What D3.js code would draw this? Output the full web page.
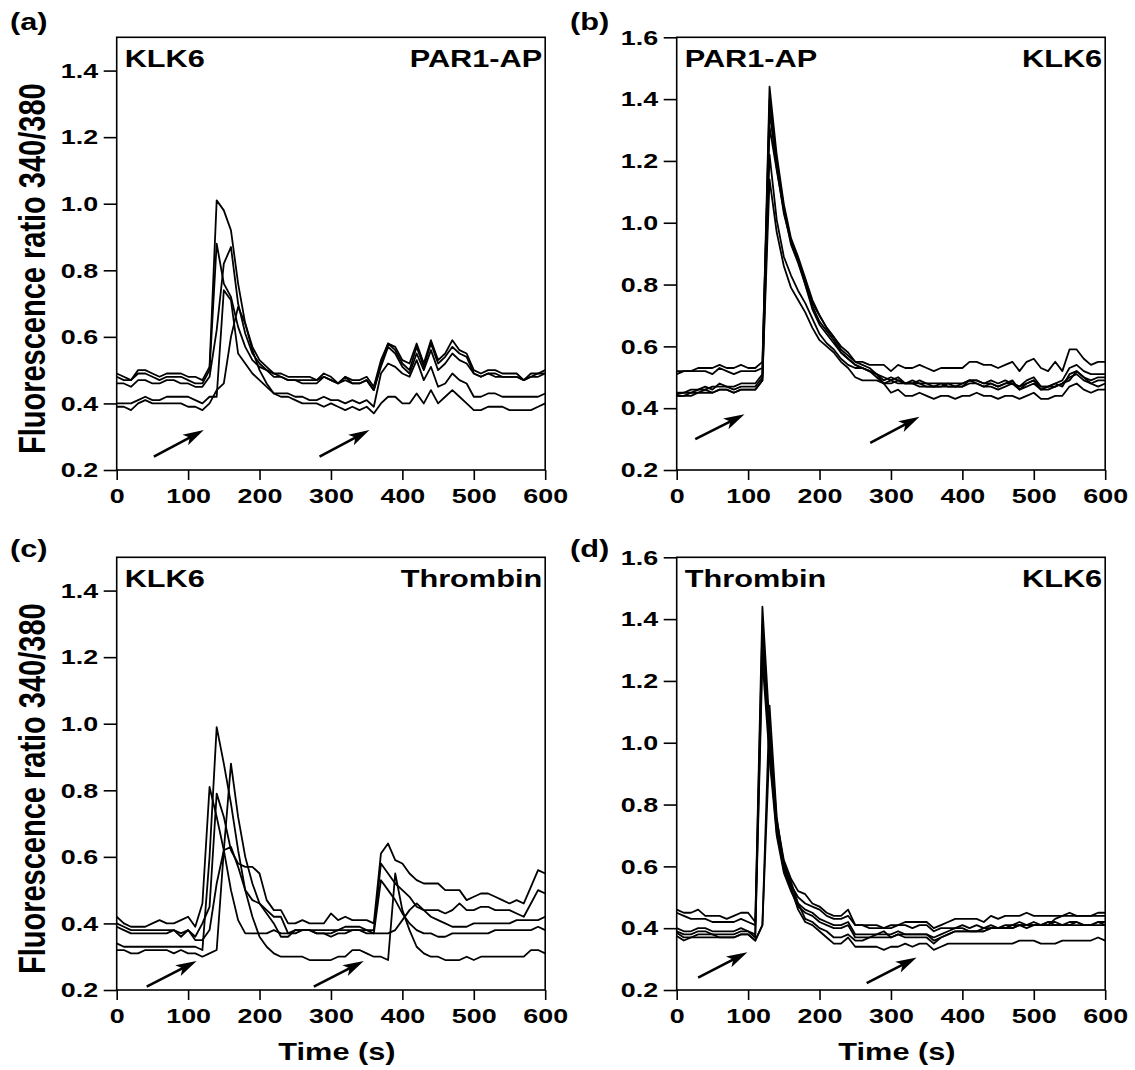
<!DOCTYPE html>
<html lang="en">
<head>
<meta charset="UTF-8">
<title>Fluorescence ratio traces</title>
<style>
    body { margin: 0; background: #fff; }
    .trace { fill: none; stroke: #000; stroke-width: 1.8px; stroke-linejoin: round; }
    .frame { fill: none; stroke: #000; stroke-width: 1.6px; }
    .tick line { stroke: #000; stroke-width: 1.6px; }
    .tick text { font-size: 21px; }
    .arrow { stroke: #000; stroke-width: 2.6px; }
    text { font-family: "Liberation Sans", Arial, sans-serif; font-weight: bold; fill: #000; }
</style>
</head>
<body>
<script src="https://cdn.jsdelivr.net/npm/d3@7"></script>
<script>

    // sampling every 10 s, 0..600
    const times = d3.range(0, 601, 10);
    const xTicks = [0, 100, 200, 300, 400, 500, 600];
    const yTicksA = [0.2, 0.4, 0.6, 0.8, 1.0, 1.2, 1.4];
    const yTicksB = [0.2, 0.4, 0.6, 0.8, 1.0, 1.2, 1.4, 1.6];

    const panelLetters = ['(a)', '(b)', '(c)', '(d)'];
    const cornerLabels = [['KLK6', 'PAR1-AP'], ['PAR1-AP', 'KLK6'], ['KLK6', 'Thrombin'], ['Thrombin', 'KLK6']];
    const yMaxes = [1.5, 1.6, 1.5, 1.6];

    // (a) KLK6 then PAR1-AP
    const tracesA = [
        [0.49,0.48,0.47,0.50,0.50,0.49,0.48,0.49,0.49,0.49, 0.48,0.48,0.47,0.51,1.01,0.98,0.92,0.76,0.64,0.57,
         0.53,0.51,0.49,0.49,0.48,0.48,0.48,0.48,0.47,0.49, 0.48,0.46,0.48,0.47,0.47,0.48,0.45,0.53,0.58,0.57,
         0.53,0.52,0.58,0.52,0.59,0.53,0.55,0.59,0.56,0.55, 0.50,0.49,0.50,0.50,0.49,0.49,0.49,0.47,0.49,0.49, 0.50],
        [0.48,0.47,0.47,0.49,0.49,0.48,0.47,0.48,0.48,0.48, 0.47,0.46,0.46,0.50,0.88,0.76,0.72,0.63,0.57,0.53,
         0.51,0.50,0.49,0.48,0.47,0.47,0.47,0.47,0.47,0.48, 0.47,0.46,0.47,0.46,0.46,0.47,0.44,0.52,0.58,0.56,
         0.52,0.50,0.57,0.51,0.58,0.52,0.54,0.57,0.55,0.54, 0.49,0.48,0.49,0.49,0.48,0.48,0.48,0.47,0.48,0.48, 0.49],
        [0.46,0.46,0.45,0.47,0.47,0.46,0.46,0.47,0.47,0.46, 0.46,0.45,0.45,0.48,0.62,0.82,0.87,0.70,0.61,0.55,
         0.52,0.50,0.48,0.48,0.47,0.47,0.46,0.46,0.46,0.48, 0.47,0.46,0.48,0.46,0.46,0.47,0.44,0.51,0.57,0.55,
         0.51,0.49,0.55,0.50,0.56,0.50,0.52,0.55,0.53,0.52, 0.49,0.48,0.49,0.48,0.48,0.48,0.48,0.47,0.48,0.49, 0.49],
        [0.40,0.40,0.40,0.41,0.42,0.41,0.41,0.42,0.42,0.42, 0.42,0.41,0.40,0.42,0.42,0.74,0.71,0.55,0.52,0.49,
         0.47,0.45,0.43,0.43,0.43,0.42,0.42,0.41,0.41,0.42, 0.41,0.41,0.40,0.41,0.40,0.41,0.39,0.49,0.52,0.51,
         0.49,0.48,0.53,0.47,0.51,0.45,0.46,0.49,0.47,0.46, 0.42,0.42,0.43,0.43,0.42,0.42,0.42,0.42,0.42,0.42, 0.43],
        [0.39,0.39,0.38,0.40,0.41,0.40,0.40,0.40,0.40,0.40, 0.39,0.39,0.38,0.40,0.44,0.46,0.60,0.69,0.64,0.56,
         0.50,0.46,0.43,0.42,0.42,0.41,0.40,0.40,0.40,0.39, 0.40,0.39,0.38,0.39,0.38,0.39,0.37,0.40,0.42,0.42,
         0.40,0.40,0.43,0.40,0.44,0.40,0.42,0.44,0.42,0.40, 0.38,0.38,0.39,0.39,0.39,0.38,0.38,0.38,0.38,0.39, 0.40]
    ];

    // (b) PAR1-AP then KLK6
    const tracesB = [
        [0.52,0.52,0.52,0.53,0.53,0.53,0.54,0.53,0.53,0.54, 0.53,0.53,0.55,1.36,1.18,1.03,0.94,0.88,0.81,0.74,
         0.70,0.66,0.63,0.60,0.58,0.55,0.55,0.54,0.54,0.54, 0.52,0.54,0.53,0.53,0.54,0.53,0.52,0.53,0.53,0.53,
         0.53,0.55,0.55,0.54,0.54,0.53,0.54,0.55,0.52,0.55, 0.56,0.53,0.52,0.55,0.52,0.59,0.59,0.56,0.54,0.55, 0.55],
        [0.51,0.52,0.52,0.52,0.52,0.51,0.53,0.52,0.51,0.52, 0.52,0.52,0.53,1.44,1.22,1.06,0.95,0.89,0.82,0.75,
         0.70,0.66,0.63,0.59,0.57,0.55,0.54,0.53,0.51,0.49, 0.50,0.49,0.48,0.49,0.48,0.48,0.47,0.48,0.47,0.47,
         0.48,0.49,0.49,0.48,0.49,0.48,0.49,0.48,0.47,0.49, 0.50,0.47,0.47,0.48,0.49,0.53,0.54,0.52,0.51,0.51, 0.51],
        [0.45,0.45,0.46,0.46,0.46,0.47,0.47,0.47,0.47,0.48, 0.48,0.48,0.51,1.40,1.20,1.05,0.94,0.88,0.80,0.73,
         0.68,0.65,0.62,0.58,0.56,0.54,0.53,0.52,0.50,0.48, 0.49,0.48,0.48,0.48,0.47,0.47,0.47,0.47,0.48,0.47,
         0.47,0.49,0.48,0.47,0.48,0.47,0.48,0.49,0.46,0.48, 0.49,0.46,0.47,0.48,0.47,0.51,0.52,0.50,0.49,0.50, 0.50],
        [0.445,0.45,0.45,0.46,0.47,0.46,0.48,0.47,0.46,0.47, 0.47,0.47,0.50,1.31,1.17,1.04,0.93,0.87,0.80,0.72,
         0.67,0.64,0.61,0.58,0.56,0.54,0.53,0.52,0.51,0.48, 0.48,0.49,0.48,0.48,0.48,0.47,0.47,0.47,0.47,0.47,
         0.47,0.48,0.48,0.47,0.47,0.46,0.47,0.48,0.46,0.47, 0.48,0.46,0.46,0.47,0.48,0.50,0.51,0.49,0.48,0.49, 0.49],
        [0.44,0.44,0.45,0.45,0.46,0.45,0.46,0.46,0.45,0.46, 0.46,0.46,0.49,1.22,1.01,0.89,0.83,0.78,0.74,0.69,
         0.64,0.61,0.59,0.56,0.54,0.53,0.53,0.52,0.51,0.50, 0.49,0.50,0.48,0.48,0.49,0.48,0.48,0.48,0.48,0.48,
         0.48,0.49,0.49,0.48,0.48,0.47,0.48,0.48,0.47,0.48, 0.49,0.47,0.47,0.47,0.48,0.49,0.52,0.50,0.48,0.47, 0.48],
        [0.44,0.44,0.44,0.45,0.45,0.45,0.46,0.46,0.45,0.46, 0.46,0.46,0.49,1.14,0.97,0.86,0.79,0.75,0.71,0.66,
         0.62,0.60,0.58,0.55,0.53,0.50,0.49,0.49,0.49,0.48, 0.45,0.46,0.44,0.44,0.45,0.44,0.43,0.44,0.44,0.43,
         0.44,0.44,0.45,0.44,0.44,0.43,0.44,0.44,0.43,0.44, 0.45,0.43,0.43,0.44,0.44,0.47,0.48,0.46,0.45,0.46, 0.46]
    ];

    // (c) KLK6 then Thrombin
    const tracesC = [
        [0.42,0.40,0.39,0.39,0.39,0.40,0.41,0.40,0.40,0.41, 0.42,0.39,0.46,0.81,0.72,0.62,0.50,0.41,0.37,0.37,
         0.37,0.37,0.38,0.37,0.37,0.38,0.38,0.38,0.37,0.37, 0.36,0.37,0.37,0.38,0.38,0.37,0.37,0.37,0.37,0.38,
         0.41,0.44,0.46,0.44,0.42,0.41,0.40,0.39,0.39,0.39, 0.40,0.40,0.40,0.40,0.40,0.40,0.41,0.41,0.41,0.41, 0.42],
        [0.40,0.39,0.38,0.38,0.38,0.38,0.38,0.38,0.38,0.37, 0.38,0.36,0.40,0.45,0.79,0.72,0.62,0.58,0.57,0.57,
         0.55,0.47,0.44,0.44,0.40,0.40,0.41,0.40,0.40,0.40, 0.43,0.41,0.42,0.41,0.41,0.41,0.40,0.61,0.64,0.59,
         0.58,0.55,0.53,0.52,0.52,0.52,0.50,0.50,0.50,0.47, 0.48,0.49,0.49,0.48,0.47,0.46,0.47,0.46,0.51,0.56, 0.55],
        [0.39,0.38,0.37,0.37,0.37,0.37,0.37,0.37,0.38,0.36, 0.38,0.35,0.35,0.38,0.52,0.62,0.63,0.57,0.50,0.47,
         0.46,0.44,0.42,0.42,0.37,0.37,0.38,0.38,0.38,0.38, 0.38,0.38,0.39,0.39,0.39,0.38,0.38,0.58,0.55,0.52,
         0.50,0.48,0.45,0.44,0.44,0.44,0.43,0.44,0.46,0.44, 0.44,0.45,0.45,0.44,0.44,0.44,0.43,0.42,0.46,0.50, 0.49],
        [0.34,0.33,0.33,0.33,0.33,0.33,0.33,0.33,0.33,0.33, 0.33,0.33,0.32,0.60,0.99,0.88,0.76,0.62,0.50,0.42,
         0.36,0.33,0.31,0.30,0.30,0.30,0.30,0.29,0.29,0.29, 0.29,0.30,0.30,0.32,0.32,0.31,0.30,0.30,0.29,0.55,
         0.44,0.38,0.33,0.31,0.30,0.30,0.29,0.29,0.29,0.30, 0.29,0.30,0.30,0.30,0.30,0.30,0.30,0.30,0.32,0.32, 0.31],
        [0.32,0.32,0.31,0.31,0.32,0.32,0.32,0.32,0.31,0.32, 0.31,0.31,0.30,0.31,0.32,0.62,0.88,0.72,0.60,0.52,
         0.46,0.43,0.40,0.36,0.36,0.38,0.38,0.38,0.37,0.37, 0.37,0.38,0.38,0.38,0.38,0.38,0.37,0.53,0.50,0.47,
         0.43,0.40,0.38,0.37,0.37,0.36,0.36,0.37,0.37,0.37, 0.37,0.37,0.37,0.38,0.38,0.38,0.38,0.38,0.38,0.39, 0.38]
    ];

    // (d) Thrombin then KLK6
    const tracesD = [
        [0.46,0.45,0.45,0.46,0.44,0.44,0.44,0.43,0.44,0.45, 0.45,0.42,1.44,1.05,0.75,0.62,0.56,0.52,0.51,0.48,
         0.47,0.45,0.44,0.44,0.46,0.41,0.41,0.41,0.41,0.40, 0.41,0.41,0.42,0.42,0.42,0.42,0.40,0.41,0.42,0.43,
         0.43,0.43,0.43,0.42,0.44,0.43,0.44,0.44,0.44,0.45, 0.44,0.44,0.44,0.44,0.44,0.44,0.44,0.44,0.44,0.45, 0.45],
        [0.45,0.44,0.43,0.43,0.43,0.42,0.42,0.42,0.42,0.43, 0.42,0.41,1.38,1.02,0.73,0.60,0.54,0.50,0.48,0.47,
         0.46,0.44,0.43,0.43,0.44,0.41,0.41,0.40,0.40,0.40, 0.40,0.41,0.41,0.40,0.41,0.41,0.39,0.40,0.40,0.40,
         0.41,0.40,0.41,0.40,0.41,0.40,0.41,0.41,0.42,0.41, 0.42,0.41,0.41,0.43,0.44,0.45,0.44,0.44,0.44,0.44, 0.44],
        [0.40,0.39,0.39,0.40,0.40,0.39,0.39,0.39,0.39,0.40, 0.39,0.38,1.32,0.98,0.71,0.59,0.53,0.48,0.46,0.45,
         0.43,0.42,0.41,0.41,0.42,0.38,0.38,0.38,0.38,0.38, 0.38,0.39,0.38,0.38,0.38,0.38,0.37,0.38,0.39,0.40,
         0.40,0.39,0.39,0.39,0.40,0.40,0.40,0.40,0.41,0.41, 0.41,0.41,0.42,0.41,0.41,0.42,0.42,0.41,0.41,0.42, 0.42],
        [0.39,0.38,0.38,0.39,0.39,0.38,0.38,0.38,0.38,0.39, 0.39,0.37,1.27,0.95,0.70,0.58,0.52,0.47,0.45,0.44,
         0.42,0.41,0.40,0.40,0.41,0.37,0.37,0.37,0.37,0.37, 0.37,0.38,0.38,0.38,0.38,0.38,0.36,0.37,0.38,0.39,
         0.39,0.39,0.39,0.39,0.40,0.40,0.40,0.40,0.41,0.41, 0.41,0.41,0.41,0.41,0.41,0.41,0.42,0.41,0.41,0.41, 0.41],
        [0.385,0.37,0.37,0.38,0.38,0.38,0.37,0.37,0.37,0.38, 0.38,0.36,0.41,1.12,0.76,0.60,0.53,0.46,0.42,0.41,
         0.39,0.37,0.35,0.35,0.37,0.34,0.34,0.34,0.34,0.33, 0.34,0.34,0.35,0.34,0.35,0.35,0.33,0.34,0.35,0.35,
         0.35,0.35,0.35,0.35,0.35,0.35,0.35,0.35,0.36,0.36, 0.36,0.35,0.35,0.35,0.36,0.36,0.36,0.36,0.36,0.37, 0.36],
        [0.375,0.36,0.37,0.37,0.37,0.37,0.37,0.37,0.37,0.38, 0.38,0.36,0.41,1.00,0.74,0.61,0.55,0.48,0.43,0.42,
         0.40,0.39,0.37,0.37,0.38,0.36,0.36,0.37,0.38,0.39, 0.37,0.38,0.37,0.37,0.37,0.37,0.35,0.37,0.38,0.39,
         0.39,0.39,0.39,0.40,0.40,0.40,0.40,0.41,0.41,0.40, 0.41,0.41,0.42,0.42,0.41,0.41,0.41,0.41,0.41,0.42, 0.41]
    ];

    // addition arrows, [time, ratio] from -> to
    const arrowsA = [[[52, 0.24], [122, 0.32]], [[284, 0.24], [354, 0.32]]];
    const arrowsB = [[[26, 0.30], [95, 0.38]], [[271, 0.288], [340, 0.372]]];
    const arrowsC = [[[42, 0.21], [112, 0.287]], [[276, 0.21], [346, 0.287]]];
    const arrowsD = [[[30, 0.24], [99, 0.322]], [[266, 0.222], [336, 0.305]]];

    const allTraces = [tracesA, tracesB, tracesC, tracesD];
    const allArrows = [arrowsA, arrowsB, arrowsC, arrowsD];

    // layout
    const width = 1135;
    const height = 1070;
    const stretch = 1.28;   // the figure's lettering is wide
    const colX = [116.7, 676.7];
    const plotW = 428.5;
    const rowTop = [37.3, 557.3];
    const rowBottom = [470, 990];

    let svg = d3.select('body').append('svg')
        .attr('width', width)
        .attr('height', height);

    function label(parent, x, y, str, size, anchor) {
        parent.append('text')
            .attr('transform', 'translate(' + x + ',' + y + ') scale(' + stretch + ',1)')
            .attr('text-anchor', anchor)
            .attr('font-size', size)
            .text(str);
    }

    panelLetters.forEach(function (letter, i) {
        const col = i % 2, row = Math.floor(i / 2);
        const x0 = colX[col], top = rowTop[row], bottom = rowBottom[row];
        const yTicks = yMaxes[i] > 1.55 ? yTicksB : yTicksA;

        let x = d3.scaleLinear().domain([0, 600]).range([x0, x0 + plotW]);
        let y = d3.scaleLinear().domain([0.2, yMaxes[i]]).range([bottom, top]);

        let g = svg.append('g');

        let line = d3.line()
            .x(function (d, j) { return x(times[j]); })
            .y(function (d) { return y(d); });

        g.selectAll('path.trace')
            .data(allTraces[i])
            .enter().append('path')
            .attr('class', 'trace')
            .attr('d', line);

        g.append('rect')
            .attr('class', 'frame')
            .attr('x', x0).attr('y', top)
            .attr('width', plotW).attr('height', bottom - top);

        let ya = g.append('g')
            .attr('transform', 'translate(' + x0 + ',0)')
            .call(d3.axisLeft(y).tickValues(yTicks).tickFormat(d3.format('.1f')).tickSize(13).tickSizeOuter(0));
        ya.select('.domain').remove();
        ya.selectAll('text')
            .attr('x', -18.5 / stretch)
            .attr('transform', 'scale(' + stretch + ',1)');

        let xa = g.append('g')
            .attr('transform', 'translate(0,' + bottom + ')')
            .call(d3.axisBottom(x).tickValues(xTicks).tickSize(10).tickPadding(8.5).tickSizeOuter(0));
        xa.select('.domain').remove();
        xa.selectAll('text').attr('transform', 'scale(' + stretch + ',1)');

        // corner labels
        label(g, x0 + 8, top + 30, cornerLabels[i][0], 24, 'start');
        label(g, x0 + plotW - 3, top + 30, cornerLabels[i][1], 24, 'end');

        // panel letter
        label(g, x0 - 106.7, row ? 557 : 30, letter, 24, 'start');

        // arrows
        allArrows[i].forEach(function (a) {
            const sx = x(a[0][0]), sy = y(a[0][1]);
            const ex = x(a[1][0]), ey = y(a[1][1]);
            const ang = Math.atan2(ey - sy, ex - sx);
            const len = Math.hypot(ex - sx, ey - sy);
            let ag = g.append('g')
                .attr('transform', 'translate(' + sx + ',' + sy + ') rotate(' + (ang * 180 / Math.PI) + ')');
            ag.append('line')
                .attr('class', 'arrow')
                .attr('x1', 0).attr('y1', 0)
                .attr('x2', len - 14).attr('y2', 0);
            ag.append('path')
                .attr('d', 'M' + len + ',0 L' + (len - 21) + ',6 L' + (len - 16) + ',0 L' + (len - 21) + ',-6 Z')
                .attr('fill', '#000');
        });

        if (col === 0) {
            g.append('text')
                .attr('transform', 'translate(44.6,' + ((top + bottom) / 2 + 15) + ') scale(' + stretch + ',1) rotate(-90)')
                .attr('text-anchor', 'middle')
                .attr('font-size', 29)
                .text('Fluorescence ratio 340/380');
        }
        if (row === 1) {
            label(g, x0 + plotW / 2 + 6, 1060, 'Time (s)', 24, 'middle');
        }
    });

</script>
</body>
</html>
